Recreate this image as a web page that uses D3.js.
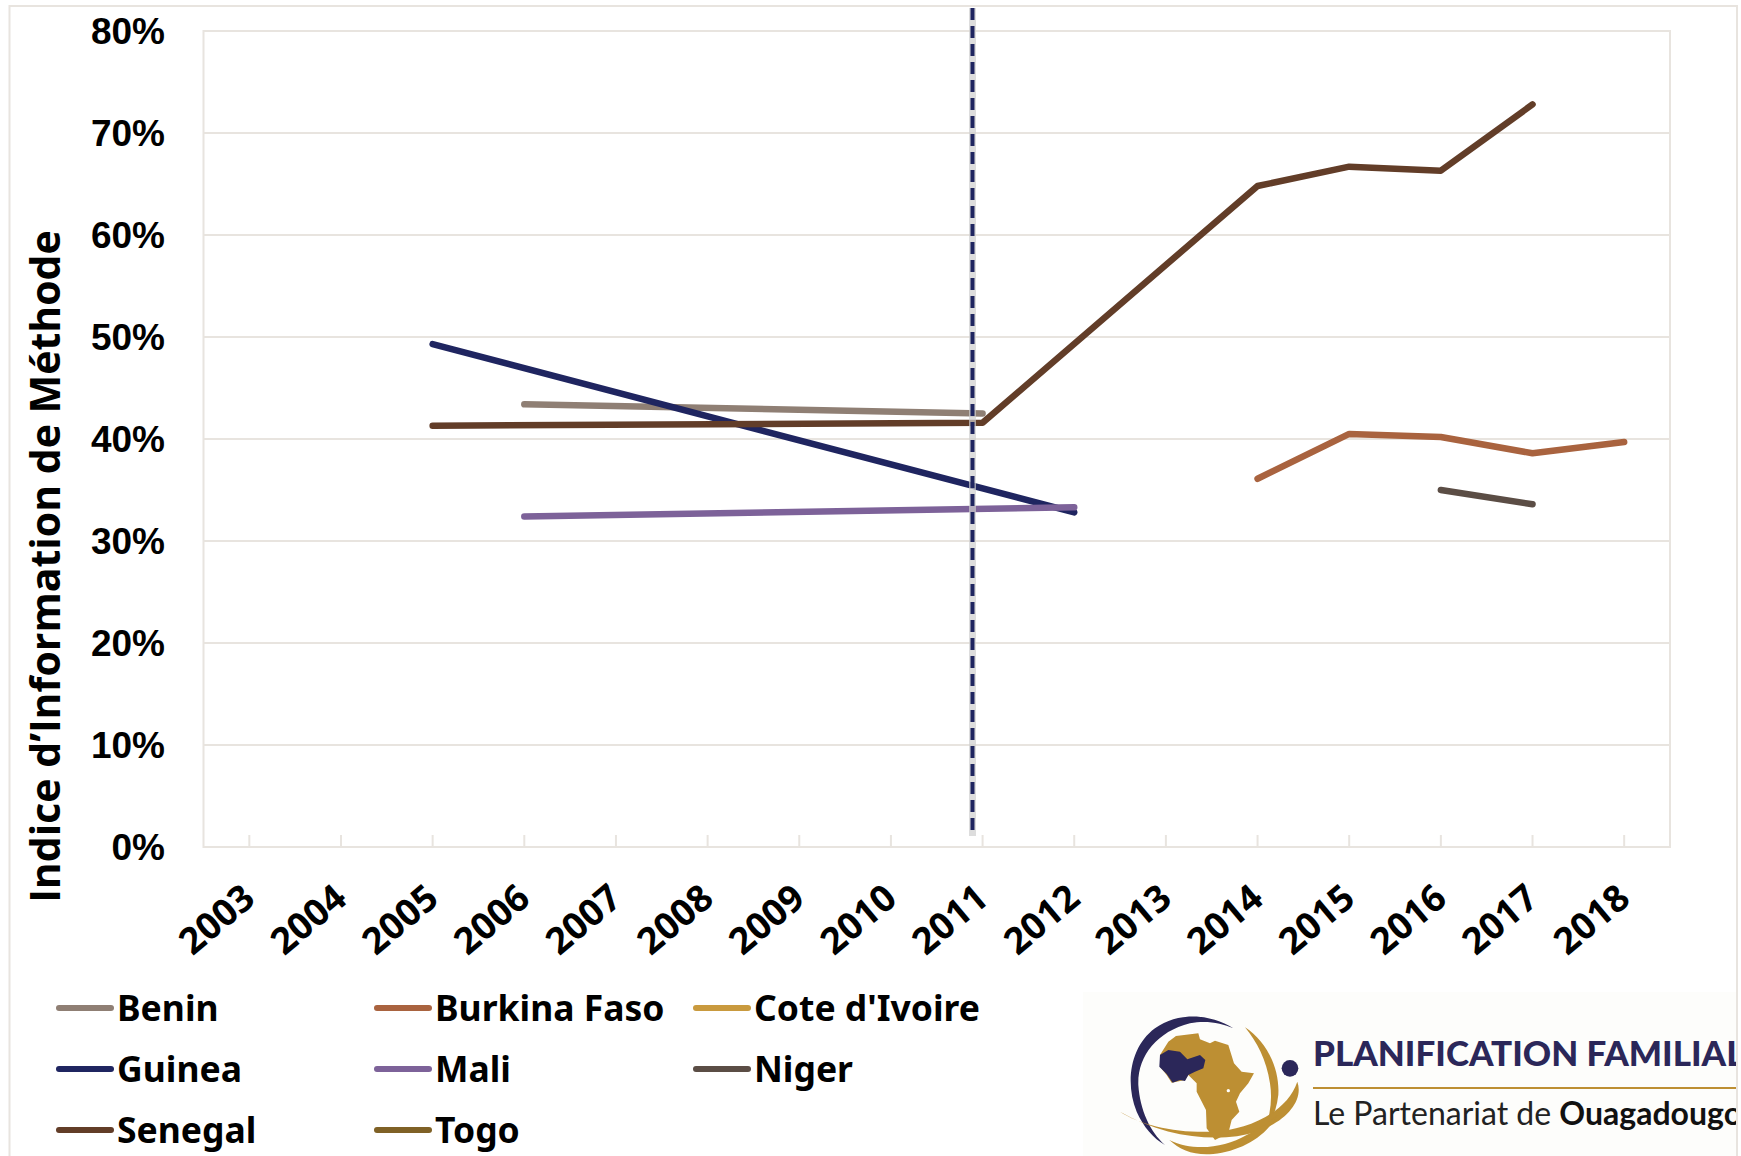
<!DOCTYPE html>
<html>
<head>
<meta charset="utf-8">
<script src="https://cdnjs.cloudflare.com/ajax/libs/d3/7.8.5/d3.min.js"></script>
<style>
body { margin: 0; background: #fff; }
text { font-family: "Open Sans", sans-serif; font-weight: 700; fill: #000; }
</style>
</head>
<body>
<svg id="canvas"></svg>
<script>
const years = d3.range(2003, 2019);
const yTicks = [0, 10, 20, 30, 40, 50, 60, 70, 80];
const yTitle = 'Indice d’Information de Méthode';
const cutYear = 2010.89;

const benin = [[2006, 43.4], [2011, 42.5]];
const burkina = [[2014, 36.1], [2015, 40.5], [2016, 40.2], [2017, 38.6], [2018, 39.7]];
const guinea = [[2005, 49.3], [2012, 32.8]];
const mali = [[2006, 32.4], [2012, 33.3]];
const niger = [[2016, 35.0], [2017, 33.6]];
const senegal = [[2005, 41.3], [2011, 41.6], [2014, 64.8], [2015, 66.7], [2016, 66.3], [2017, 72.8]];

const series = [
	{ name: 'Benin', color: '#8f7f74', values: benin },
	{ name: 'Burkina Faso', color: '#a9633f', values: burkina },
	{ name: "Cote d'Ivoire", color: '#c99a3e', values: [] },
	{ name: 'Guinea', color: '#1f2560', values: guinea },
	{ name: 'Mali', color: '#7d6299', values: mali },
	{ name: 'Niger', color: '#5b4d45', values: niger },
	{ name: 'Senegal', color: '#623d28', values: senegal },
	{ name: 'Togo', color: '#7f6126', values: [] }
];

const width = 1741, height = 1156;
const GRID = '#e8e4df';

const svg = d3.select('svg#canvas')
	.attr('width', width)
	.attr('height', height)
	.style('display', 'block');

// outer frame of the pasted chart
svg.append('path')
	.attr('d', `M9.5,${height} V6 H1737 V${height}`)
	.attr('fill', 'none')
	.attr('stroke', GRID)
	.attr('stroke-width', 2);

const x = d3.scaleLinear().domain([2002.5, 2018.5]).range([203.5, 1670]);
const y = d3.scaleLinear().domain([0, 80]).range([847, 31]);

// grid
svg.append('g').selectAll('line').data(yTicks).join('line')
	.attr('x1', x.range()[0]).attr('x2', x.range()[1])
	.attr('y1', d => y(d)).attr('y2', d => y(d))
	.attr('stroke', GRID).attr('stroke-width', 2);

svg.append('g').selectAll('line').data(x.range()).join('line')
	.attr('x1', d => d).attr('x2', d => d)
	.attr('y1', y(80) - 1).attr('y2', y(0) + 1)
	.attr('stroke', GRID).attr('stroke-width', 2);

// x axis ticks go up into the plot
svg.append('g').selectAll('line').data(years).join('line')
	.attr('x1', d => x(d)).attr('x2', d => x(d))
	.attr('y1', y(0)).attr('y2', y(0) - 12)
	.attr('stroke', GRID).attr('stroke-width', 2);

svg.append('g').selectAll('text').data(yTicks).join('text')
	.attr('x', 165)
	.attr('y', d => y(d))
	.attr('dy', '0.36em')
	.attr('text-anchor', 'end')
	.style('font-family', '"Liberation Sans", sans-serif')
	.style('font-size', '37px')
	.text(d => d + '%');

svg.append('g').selectAll('text').data(years).join('text')
	.attr('text-anchor', 'end')
	.attr('transform', d => `translate(${x(d) + 8},${y(0) + 55}) rotate(-40)`)
	.style('font-size', '37px')
	.text(d => d);

svg.append('text')
	.attr('transform', `translate(60,${(233 + 900) / 2}) rotate(-90)`)
	.attr('text-anchor', 'middle')
	.style('font-size', '41px')
	.text(yTitle);

// series
const line = d3.line().x(d => x(d[0])).y(d => y(d[1]));

svg.append('g').selectAll('path').data(series).join('path')
	.attr('d', d => d.values.length ? line(d.values) : null)
	.attr('fill', 'none')
	.attr('stroke', d => d.color)
	.attr('stroke-width', 6.5)
	.attr('stroke-linecap', 'round')
	.attr('stroke-linejoin', 'round');

// dashed 2011 marker with its pale halo
svg.append('line')
	.attr('x1', x(cutYear)).attr('x2', x(cutYear))
	.attr('y1', 8).attr('y2', 836)
	.attr('stroke', '#cfcfcf').attr('stroke-width', 7)
	.attr('opacity', 0.7);
svg.append('line')
	.attr('x1', x(cutYear)).attr('x2', x(cutYear))
	.attr('y1', 8).attr('y2', 836)
	.attr('stroke', '#1f2560').attr('stroke-width', 4)
	.attr('stroke-dasharray', '12 6');

// legend
const legX = [59, 377, 696], legY = [1008, 1069, 1130];
const leg = svg.append('g').selectAll('g').data(series).join('g')
	.attr('transform', (d, i) => `translate(${legX[i % 3]},${legY[Math.floor(i / 3)]})`);
leg.append('line')
	.attr('x1', 0).attr('x2', 52)
	.attr('stroke', d => d.color)
	.attr('stroke-width', 6)
	.attr('stroke-linecap', 'round');
leg.append('text')
	.attr('x', 58)
	.attr('dy', '0.36em')
	.style('font-family', '"Noto Sans", sans-serif')
	.style('font-size', '35.5px')
	.text(d => d.name);

// logo
svg.append('rect')
	.attr('x', 1083).attr('y', 992).attr('width', 653).attr('height', 164)
	.attr('fill', '#fdfdfb');
const logo = svg.append('g').attr('transform', 'translate(1100,1000) scale(0.3333)');
const NAVY = '#2b2759', GOLD = '#bd8f33';
logo.append('path').attr('fill', NAVY)
	.attr('d', 'M400,85 C340,45 240,30 165,85 C90,140 75,250 110,335 C130,380 160,415 195,435 C150,395 120,330 115,255 C112,170 170,95 270,70 C320,60 365,70 400,85 Z');
logo.append('path').attr('fill', GOLD)
	.attr('d', 'M435,82 C500,125 540,205 535,285 C530,330 515,365 495,390 C510,345 518,300 510,250 C500,180 470,125 435,82 Z');
logo.append('path').attr('fill', GOLD)
	.attr('d', 'M60,335 C120,375 230,400 340,395 C440,390 560,340 592,245 C612,300 560,365 470,395 C360,430 200,415 60,335 Z');
logo.append('path').attr('fill', GOLD)
	.attr('d', 'M208,420 C280,455 370,445 440,405 C480,385 510,365 532,345 C500,410 420,455 340,462 C285,468 240,450 208,420 Z');
logo.append('path').attr('fill', GOLD)
	.attr('d', 'M205,125 L228,108 L295,100 L300,118 L330,130 L345,122 L385,135 L402,190 L425,215 L462,220 L445,250 L420,280 L408,305 L418,335 L395,360 L385,400 L345,420 L320,385 L318,330 L290,275 L290,250 L265,225 L255,240 L215,248 L200,225 L180,200 L180,165 Z');
logo.append('path').attr('fill', NAVY)
	.attr('d', 'M205,150 L240,155 L262,178 L300,165 L316,180 L310,205 L285,215 L265,225 L255,243 L240,240 L218,248 L200,222 L178,200 L180,165 Z');
logo.append('circle').attr('cx', 385).attr('cy', 272).attr('r', 5).attr('fill', '#fff');
logo.append('circle').attr('cx', 570).attr('cy', 205).attr('r', 25).attr('fill', NAVY);

// the reference crops these two lines at its right edge
svg.append('clipPath').attr('id', 'logo-clip').append('rect')
	.attr('x', 1083).attr('y', 992).attr('width', 653).attr('height', 164);
const logoText = svg.append('g').attr('clip-path', 'url(#logo-clip)');
logoText.append('text')
	.attr('x', 1313).attr('y', 1066)
	.style('font-family', 'Lato, sans-serif')
	.style('font-weight', 900)
	.style('font-size', '35px')
	.style('fill', NAVY)
	.text('PLANIFICATION FAMILIALE');
logoText.append('line')
	.attr('x1', 1313).attr('x2', 1737)
	.attr('y1', 1088).attr('y2', 1088)
	.attr('stroke', GOLD).attr('stroke-width', 2);
const sub = logoText.append('text')
	.attr('x', 1313).attr('y', 1125)
	.style('font-family', 'Lato, sans-serif')
	.style('font-weight', 400)
	.style('font-size', '32px')
	.style('fill', '#222');
sub.append('tspan').text('Le Partenariat de ');
sub.append('tspan').style('font-weight', 700).style('fill', '#111').text('Ouagadougou');
</script>
</body>
</html>
